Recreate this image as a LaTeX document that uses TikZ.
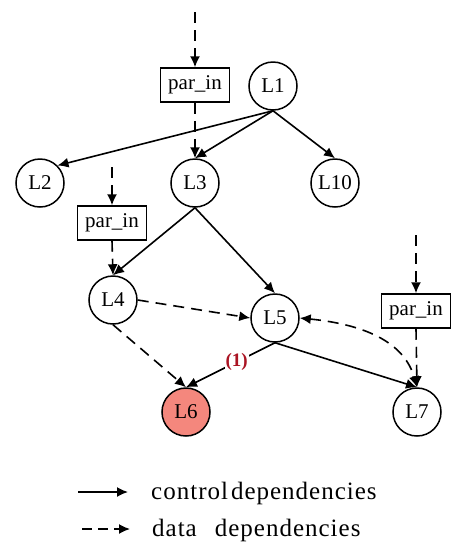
\documentclass[tikz,border=0pt]{standalone}
\usepackage{fontspec}
\setmainfont{Liberation Serif}
\newfontfamily\legendfont[LetterSpace=4]{Liberation Serif}
\usetikzlibrary{arrows.meta}
\definecolor{salmonfill}{RGB}{244,135,125}
\definecolor{labred}{RGB}{170,20,35}
\begin{document}
\begin{tikzpicture}[x=1pt,y=-1pt,
  every node/.style={inner sep=0pt},
  circ/.style={draw, circle, line width=1.5pt, minimum size=48pt, font=\fontsize{21}{24}\selectfont},
  parbox/.style={draw, rectangle, line width=1.5pt, minimum width=69pt, minimum height=34pt, font=\fontsize{21}{23}\selectfont},
  ctl/.style={line width=1.6pt, -{Latex[length=11pt,width=10pt]}},
  dat/.style={line width=1.6pt, dash pattern=on 11pt off 7pt, -{Latex[length=11pt,width=10pt]}},
  legtext/.style={anchor=base west, font=\legendfont\fontsize{25}{28}\selectfont}]
\useasboundingbox (0,0) rectangle (462,550);
\node[circ] (L1) at (273,86) {L1};
\node[circ] (L2) at (40,183) {L2};
\node[circ] (L3) at (195,183) {L3};
\node[circ] (L10) at (335,183) {L10};
\node[circ] (L4) at (113,300) {L4};
\node[circ] (L5) at (275,318) {L5};
\node[circ, fill=salmonfill] (L6) at (186,412) {L6};
\node[circ] (L7) at (417,412) {L7};
\node[parbox] (P1) at (195,85) {par\_in};
\node[parbox] (P2) at (112,223) {par\_in};
\node[parbox] (P3) at (416,311) {par\_in};
\coordinate (T1) at (195,12);
\coordinate (T2) at (112,167);
\coordinate (T3) at (416,235);
% control
\draw[ctl] (L1.south) -- (L2.north east);
\draw[ctl] (L1.south) -- (L3.north);
\draw[ctl] (L1.south) -- (L10.north);
\draw[ctl] (L3.south) -- (L4.north);
\draw[ctl] (L3.south) -- (L5.north);
\draw[ctl] (L5.south) -- node[pos=0.43, fill=white, inner sep=1pt, text=labred, font=\fontsize{19}{21}\selectfont\bfseries] {(1)} (L6.north);
\draw[ctl] (L5.south) -- (L7.north);
% data
\draw[dat] (T1) -- (P1.north);
\draw[dat] (P1.south) -- (L3.north);
\draw[dat] (T2) -- (P2.north);
\draw[dat] (P2.south) -- (L4.north);
\draw[dat] (T3) -- (P3.north);
\draw[dat] (P3.south) -- (L7.north);
\draw[dat] (L4.east) -- (L5.west);
\draw[dat] (L4.south) -- (L6.north);
\draw[line width=1.6pt, dash pattern=on 11pt off 7pt, {Latex[length=11pt,width=10pt]}-{Latex[length=11pt,width=10pt]}] (L5.east) .. controls (370,325) and (405,345) .. (L7.north);
% legend
\coordinate (A1) at (78,492);
\coordinate (B1) at (128,492);
\coordinate (A2) at (82,529);
\coordinate (B2) at (130,529);
\draw[ctl] (A1) -- (B1);
\draw[dat, dash pattern=on 10pt off 6pt] (A2) -- (B2);
\node[legtext] (C) at (151,499) {control\hspace{3pt}dependencies};
\node[legtext] (D) at (152,536) {data\hspace{18pt}dependencies};
\end{tikzpicture}
\end{document}
